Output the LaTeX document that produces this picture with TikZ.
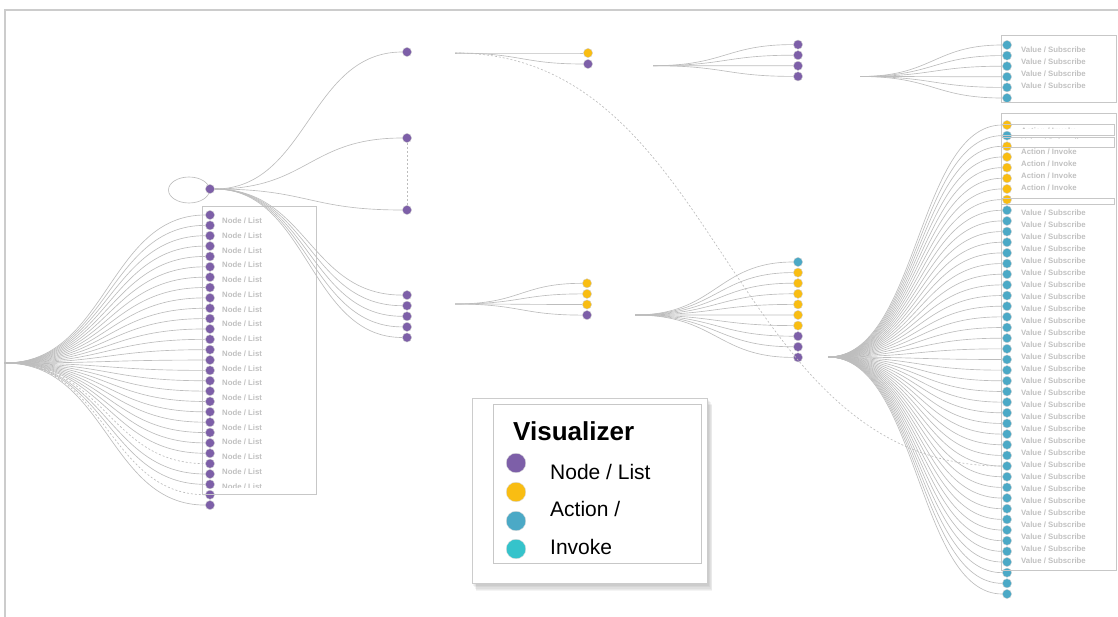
\documentclass[tikz,border=0pt]{standalone}
\usepackage{fontspec}
\setmainfont{Liberation Sans}
\definecolor{vpurple}{HTML}{7D5FA8}
\definecolor{vyellow}{HTML}{F9BD12}
\definecolor{vteal}{HTML}{4BA9C6}
\definecolor{vcyan}{HTML}{35C3CB}
\definecolor{vline}{HTML}{BDBDBD}
\definecolor{vtext}{HTML}{C0C0C0}

\begin{document}
\begin{tikzpicture}[x=1pt, y=-1pt]
    \tikzstyle{link}=[draw=vline, line width=0.65pt]
    \tikzstyle{dlink}=[link, dash pattern=on 2pt off 2pt]
    \tikzstyle{dot}=[circle, draw=black!18, line width=0.4pt, inner sep=0pt, minimum size=9.2pt]
    \tikzstyle{pnode}=[dot, fill=vpurple]
    \tikzstyle{ynode}=[dot, fill=vyellow]
    \tikzstyle{tnode}=[dot, fill=vteal]
    \tikzstyle{lbl}=[anchor=west, inner sep=0pt, text=vtext, font=\fontsize{7.8}{9}\selectfont\bfseries]
    \tikzstyle{frame}=[draw=black!22, line width=0.6pt]
    \tikzstyle{keydot}=[circle, draw=black!15, line width=0.4pt, inner sep=0pt, minimum size=19.5pt]
    \tikzstyle{keytext}=[anchor=west, inner sep=0pt, font=\fontsize{21}{24}\selectfont]
    \def\gap{10.6}

    \useasboundingbox (0,0) rectangle (1118,617);
    \draw[draw=black!20, line width=1.2pt] (5,617) -- (5,10) -- (1118,10);

    % left list
    \coordinate (root) at (5,363);
    \foreach \i in {0,...,28} {
        \node[pnode] (l\i) at (210,{215+10.36*\i}) {};
    }
    \foreach \i in {0,...,23,25,26,28} {
        \draw[link] (root) .. controls +(102,0) and +(-102,0) .. (l\i);
    }
    \foreach \i in {24,27} {
        \draw[dlink] (root) .. controls +(102,0) and +(-102,0) .. (l\i);
    }
    \draw[frame] (202,206) rectangle (316,494);
    \begin{scope}
        \clip (202,206) rectangle (316,487.5);
        \foreach \k in {0,...,18} {
            \node[lbl] (nl\k) at (222,{221+14.75*\k}) {Node / List};
        }
    \end{scope}

    % hub and its children
    \coordinate (loopc) at (189,190);
    \draw[link] (loopc) ellipse (20.5 and 13);
    \node[pnode] (hub) at (210,189) {};
    \node[pnode] (t1) at (407,52) {};
    \node[pnode] (t2) at (407,138) {};
    \node[pnode] (t3) at (407,210) {};
    \foreach \i in {1,...,5} {
        \node[pnode] (h\i) at (407,{284.5+\gap*\i}) {};
    }
    \foreach \n in {t1,t2,t3,h1,h2,h3,h4,h5} {
        \draw[link] (hub) .. controls +(98,0) and +(-98,0) .. (\n);
    }
    \draw[dlink] (t2) -- (t3);

    % top row
    \coordinate (f1) at (455,53);
    \node[ynode] (a1) at (588,53) {};
    \node[pnode] (a2) at (588,64) {};
    \foreach \n in {a1,a2} {
        \draw[link] (f1) .. controls +(66,0) and +(-66,0) .. (\n);
    }

    \coordinate (f2) at (653,65.7);
    \foreach \i in {1,...,4} {
        \node[pnode] (b\i) at (798,{34+\gap*\i}) {};
        \draw[link] (f2) .. controls +(72,0) and +(-72,0) .. (b\i);
    }

    \coordinate (f3) at (860,76.5);
    \foreach \i in {1,...,6} {
        \node[tnode] (c\i) at (1007,{34.4+\gap*\i}) {};
        \draw[link] (f3) .. controls +(73,0) and +(-73,0) .. (c\i);
    }
    \draw[frame] (1001,35) rectangle (1116,102);
    \foreach \k in {0,...,3} {
        \node[lbl] (vs\k) at (1021,{50+12*\k}) {Value / Subscribe};
    }

    % middle row
    \coordinate (f4) at (455,304);
    \foreach \i/\s in {1/ynode,2/ynode,3/ynode,4/pnode} {
        \node[\s] (d\i) at (587,{272.7+\gap*\i}) {};
        \draw[link] (f4) .. controls +(66,0) and +(-66,0) .. (d\i);
    }

    \coordinate (f5) at (635,315);
    \foreach \i/\s in {1/tnode,2/ynode,3/ynode,4/ynode,5/ynode,6/ynode,7/ynode,8/pnode,9/pnode,10/pnode} {
        \node[\s] (e\i) at (798,{251.4+\gap*\i}) {};
        \draw[link] (f5) .. controls +(81,0) and +(-81,0) .. (e\i);
    }

    % big fan on the right
    \coordinate (f6) at (828,357);
    \foreach \i/\s in {0/ynode,1/tnode,2/ynode,3/ynode,4/ynode,5/ynode,6/ynode,7/ynode} {
        \node[\s] (r\i) at (1007,{125+10.659*\i}) {};
    }
    \foreach \i in {8,...,44} {
        \node[tnode] (r\i) at (1007,{125+10.659*\i}) {};
    }
    \foreach \i in {0,...,44} {
        \draw[link] (f6) .. controls +(90,0) and +(-90,0) .. (r\i);
    }
    \draw[dlink] (f1) .. controls +(270,0) and +(-282,0) .. (r32);

    \draw[frame] (1001,113) rectangle (1116,570);
    \draw[frame] (1001,124) rectangle (1114,135.5);
    \draw[frame] (1001,137) rectangle (1114,147);
    \draw[frame] (1001,198) rectangle (1114,204);
    \begin{scope}
        \clip (1001,124) rectangle (1114,128.3);
        \node[lbl] (ai0) at (1021,130.5) {Action / Invoke};
    \end{scope}
    \begin{scope}
        \clip (1001,137) rectangle (1114,139);
        \node[lbl] (vs4) at (1021,141.5) {Value / Subscribe};
    \end{scope}
    \foreach \k in {1,...,4} {
        \node[lbl] (ai\k) at (1021,{140+12*\k}) {Action / Invoke};
    }
    \begin{scope}
        \clip (1001,113) rectangle (1116,563.5);
        \foreach \k in {0,...,29} {
            \node[lbl] (vb\k) at (1021,{213+12*\k}) {Value / Subscribe};
        }
    \end{scope}

    % legend
    \foreach \s in {1,...,6} {
        \fill[black, opacity=0.045] ({472+\s*0.7},{398+\s*1.1}) rectangle ({707+\s*0.9},{583+\s*1.4});
    }
    \draw[draw=black!20, fill=white] (472,398) rectangle (707,583);
    \draw[draw=black!22] (493,404) rectangle (701,563);
    \node[anchor=west, inner sep=0pt, font=\fontsize{26}{30}\selectfont\bfseries] (vtitle) at (513,431) {Visualizer};
    \node[keydot, fill=vpurple] (k1) at (516,463) {};
    \node[keydot, fill=vyellow] (k2) at (516,492) {};
    \node[keydot, fill=vteal] (k3) at (516,521) {};
    \node[keydot, fill=vcyan] (k4) at (516,549) {};
    \node[keytext] (kt1) at (550,472) {Node / List};
    \node[keytext] (kt2) at (550,509) {Action /};
    \node[keytext] (kt3) at (550,547) {Invoke};
\end{tikzpicture}
\end{document}
